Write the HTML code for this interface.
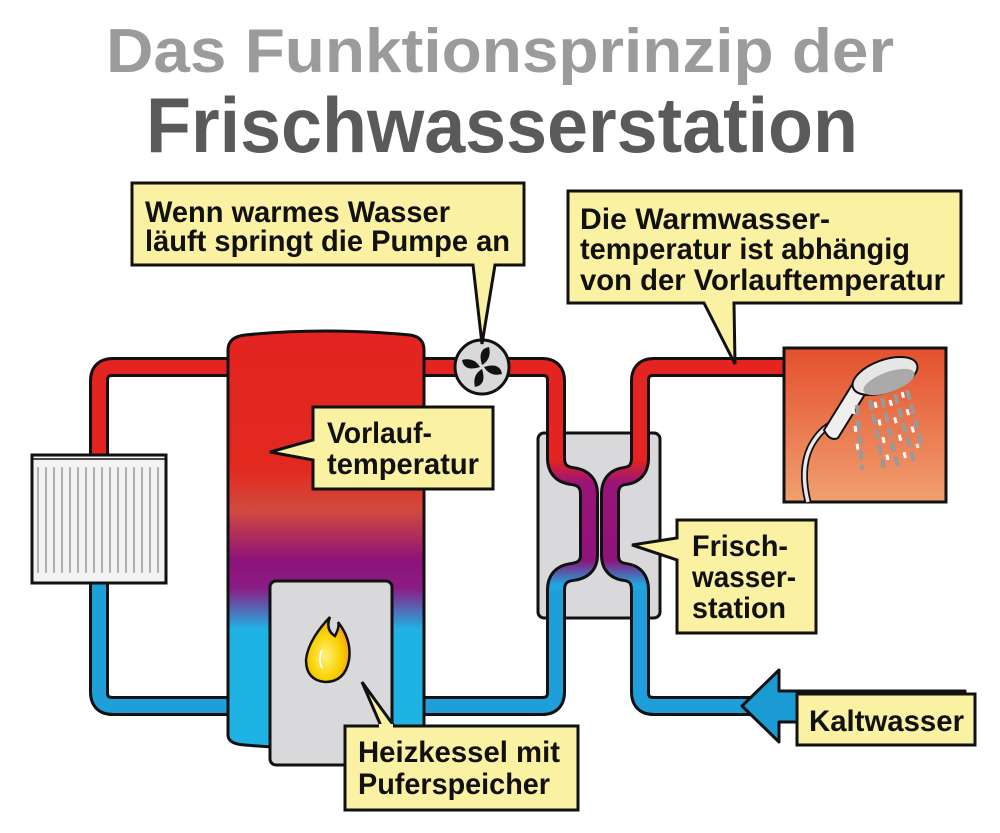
<!DOCTYPE html>
<html><head><meta charset="utf-8"><style>html,body{margin:0;padding:0;background:#fff}svg{display:block}</style></head><body>
<svg width="1000" height="833" viewBox="0 0 1000 833" xmlns="http://www.w3.org/2000/svg" font-family="Liberation Sans, Arial, sans-serif" font-weight="bold">
<defs>
<linearGradient id="tank" x1="0" y1="333" x2="0" y2="745" gradientUnits="userSpaceOnUse">
<stop offset="0" stop-color="#e32421"/><stop offset="0.33" stop-color="#e2291f"/><stop offset="0.43" stop-color="#d24a3e"/><stop offset="0.55" stop-color="#8e1379"/><stop offset="0.62" stop-color="#8a1c85"/><stop offset="0.72" stop-color="#1fb3e4"/><stop offset="1" stop-color="#1fb3e4"/>
</linearGradient>
<linearGradient id="hx" x1="0" y1="460" x2="0" y2="585" gradientUnits="userSpaceOnUse">
<stop offset="0" stop-color="#e32421"/><stop offset="0.18" stop-color="#9a1478"/><stop offset="0.8" stop-color="#8e1379"/><stop offset="1" stop-color="#1fa6e0"/>
</linearGradient>
<linearGradient id="shw" x1="0" y1="348" x2="0" y2="503" gradientUnits="userSpaceOnUse">
<stop offset="0" stop-color="#e4502d"/><stop offset="1" stop-color="#f0a070"/>
</linearGradient>
<radialGradient id="flame" cx="0.45" cy="0.6" r="0.6"><stop offset="0" stop-color="#fff27a"/><stop offset="0.6" stop-color="#f9d000"/><stop offset="1" stop-color="#f29a20"/></radialGradient>
</defs>

<text x="500" y="72" text-anchor="middle" font-size="62" fill="#9b9b9b" textLength="788" lengthAdjust="spacingAndGlyphs">Das Funktionsprinzip der</text>
<text x="502" y="152" text-anchor="middle" font-size="78" fill="#5a5a5a" textLength="712" lengthAdjust="spacingAndGlyphs">Frischwasserstation</text>

<g fill="none" stroke="#111" stroke-width="20" stroke-linejoin="round">
<path d="M240 367 H113 Q99 367 99 381 V460"/>
<path d="M99 580 V692 Q99 706 113 706 H240"/>
<path d="M418 367 H542 Q556 367 556 381 V458 Q556 474 572 476 Q589 478 589 494 V555 Q589 570 572 572 Q556 574 556 590 V692 Q556 706 542 706 H418"/>
<path d="M785 367 H654 Q640 367 640 381 V458 Q640 474 625 476 Q610 478 610 494 V555 Q610 570 625 572 Q640 574 640 590 V692 Q640 706 654 706 H760"/>
</g>
<rect x="538" y="433" width="122" height="185" rx="6" fill="#d9d9dc" stroke="#111" stroke-width="3"/>
<g fill="none" stroke="#111" stroke-width="20" stroke-linejoin="round">
<path d="M556 430 V458 Q556 474 572 476 Q589 478 589 494 V555 Q589 570 572 572 Q556 574 556 590 V620"/>
<path d="M640 430 V458 Q640 474 625 476 Q610 478 610 494 V555 Q610 570 625 572 Q640 574 640 590 V620"/>
</g>
<g fill="none" stroke-width="14" stroke-linejoin="round">
<path d="M240 367 H113 Q99 367 99 381 V460" stroke="#e32421"/>
<path d="M99 580 V692 Q99 706 113 706 H240" stroke="#1f9fd9"/>
<path d="M418 367 H542 Q556 367 556 381 V458" stroke="#e32421"/>
<path d="M785 367 H654 Q640 367 640 381 V458" stroke="#e32421"/>
<path d="M556 458 Q556 474 572 476 Q589 478 589 494 V555 Q589 570 572 572 Q556 574 556 590" stroke="url(#hx)"/>
<path d="M640 458 Q640 474 625 476 Q610 478 610 494 V555 Q610 570 625 572 Q640 574 640 590" stroke="url(#hx)"/>
<path d="M556 590 V692 Q556 706 542 706 H418" stroke="#1f9fd9"/>
<path d="M640 590 V692 Q640 706 654 706 H760" stroke="#1f9fd9"/>
</g>

<path d="M228 350 Q228 337 245 335 Q325 327 410 335 Q424 337 424 350 V735 Q424 745 410 745 Q325 752 245 745 Q228 744 228 735 Z" fill="url(#tank)" stroke="#111" stroke-width="3"/>
<rect x="270" y="581" width="122" height="184" rx="6" fill="#d9d9dc" stroke="#111" stroke-width="3"/>
<path d="M330 617 Q325 630 335 636 Q340 626 338 622 Q352 640 349 660 Q345 682 325 682 Q306 680 306 660 Q308 640 330 617 Z" fill="url(#flame)" stroke="#111" stroke-width="2.5"/>
<path d="M322 650 Q318 660 322 668" stroke="#fff" stroke-width="2" fill="none"/>

<rect x="32" y="455" width="134" height="128" fill="#f2f2f2" stroke="#111" stroke-width="3"/>
<g stroke="#999" stroke-width="1.5">
<line x1="38" y1="467" x2="38" y2="573"/><line x1="46" y1="467" x2="46" y2="573"/><line x1="54" y1="467" x2="54" y2="573"/><line x1="62" y1="467" x2="62" y2="573"/><line x1="70" y1="467" x2="70" y2="573"/><line x1="78" y1="467" x2="78" y2="573"/><line x1="86" y1="467" x2="86" y2="573"/><line x1="94" y1="467" x2="94" y2="573"/><line x1="102" y1="467" x2="102" y2="573"/><line x1="110" y1="467" x2="110" y2="573"/><line x1="118" y1="467" x2="118" y2="573"/><line x1="126" y1="467" x2="126" y2="573"/><line x1="134" y1="467" x2="134" y2="573"/><line x1="142" y1="467" x2="142" y2="573"/><line x1="150" y1="467" x2="150" y2="573"/><line x1="158" y1="467" x2="158" y2="573"/>
</g>
<line x1="32" y1="459" x2="166" y2="459" stroke="#111" stroke-width="1.5"/>

<circle cx="482" cy="367" r="27" fill="#d9d9dc" stroke="#111" stroke-width="3"/>
<g fill="#111" transform="translate(482,367)">
<path d="M0 -2 Q-5 -18 7 -20 Q10 -8 0 -2Z"/><path d="M2 0 Q18 -5 20 7 Q8 10 2 0Z"/><path d="M0 2 Q5 18 -7 20 Q-10 8 0 2Z"/><path d="M-2 0 Q-18 5 -20 -7 Q-8 -10 -2 0Z"/>
</g>

<rect x="784" y="348" width="162" height="154" fill="url(#shw)" stroke="#111" stroke-width="3"/>
<path d="M808 502 Q800 470 810 448 Q818 432 830 425" fill="none" stroke="#111" stroke-width="7"/>
<path d="M808 502 Q800 470 810 448 Q818 432 830 425" fill="none" stroke="#e8e8e8" stroke-width="3.5"/>
<path d="M824 430 L858 375 Q868 362 880 370 L838 438 Q830 442 824 430 Z" fill="#eee" stroke="#111" stroke-width="2"/>
<ellipse cx="885" cy="376" rx="34" ry="16" transform="rotate(-20 885 376)" fill="#e6e6e6" stroke="#111" stroke-width="2"/>
<ellipse cx="889" cy="382" rx="27" ry="10" transform="rotate(-20 889 382)" fill="#aaa"/>
<g stroke="#999" stroke-width="4" stroke-dasharray="10 5">
<line x1="857" y1="405" x2="862" y2="470"/><line x1="870" y1="400" x2="884" y2="468"/><line x1="882" y1="398" x2="898" y2="468"/><line x1="895" y1="394" x2="914" y2="462"/><line x1="907" y1="390" x2="922" y2="445"/>
</g>
<g stroke="#fff" stroke-width="3" stroke-dasharray="6 12">
<line x1="853" y1="408" x2="859" y2="460"/><line x1="875" y1="402" x2="888" y2="460"/><line x1="890" y1="400" x2="906" y2="460"/><line x1="902" y1="392" x2="918" y2="448"/>
</g>

<path d="M965 691 H779 V670 L742 706 L779 742 V722 H965 Z" fill="#1a9bd4" stroke="#111" stroke-width="3" stroke-linejoin="round"/>

<g fill="#fbf1a2" stroke="#111" stroke-width="3" stroke-linejoin="miter">
<path d="M132 183 H524 V265 H495 L482 344 L473 265 H132 Z"/>
<path d="M568 191 H961 V303 H734 L735 364 L704 303 H568 Z"/>
<path d="M313 407 H493 V489 H313 V460 L270 452 L313 440 Z"/>
<path d="M677 520 H816 V633 H677 V560 L632 545 L677 538 Z"/>
<path d="M345 726 H578 V810 H345 V726 H381 L362 682 L394 726"/>
<rect x="797" y="694" width="178" height="51"/>
</g>
<rect x="379" y="724" width="14" height="4" fill="#fbf1a2"/>

<g fill="#111" font-size="30">
<text x="145" y="222" textLength="305" lengthAdjust="spacingAndGlyphs">Wenn warmes Wasser</text>
<text x="145" y="251" textLength="365" lengthAdjust="spacingAndGlyphs">läuft springt die Pumpe an</text>
<text x="580" y="229" textLength="250" lengthAdjust="spacingAndGlyphs">Die Warmwasser-</text>
<text x="580" y="259" textLength="330" lengthAdjust="spacingAndGlyphs">temperatur ist abhängig</text>
<text x="580" y="290" textLength="365" lengthAdjust="spacingAndGlyphs">von der Vorlauftemperatur</text>
<text x="327" y="443" textLength="105" lengthAdjust="spacingAndGlyphs">Vorlauf-</text>
<text x="327" y="474" textLength="152" lengthAdjust="spacingAndGlyphs">temperatur</text>
<text x="692" y="556" textLength="96" lengthAdjust="spacingAndGlyphs">Frisch-</text>
<text x="692" y="587" textLength="104" lengthAdjust="spacingAndGlyphs">wasser-</text>
<text x="692" y="618" textLength="94" lengthAdjust="spacingAndGlyphs">station</text>
<text x="358" y="762" textLength="202" lengthAdjust="spacingAndGlyphs">Heizkessel mit</text>
<text x="358" y="794" textLength="192" lengthAdjust="spacingAndGlyphs">Puferspeicher</text>
<text x="809" y="731" textLength="155" lengthAdjust="spacingAndGlyphs">Kaltwasser</text>
</g>
</svg>
</body></html>
